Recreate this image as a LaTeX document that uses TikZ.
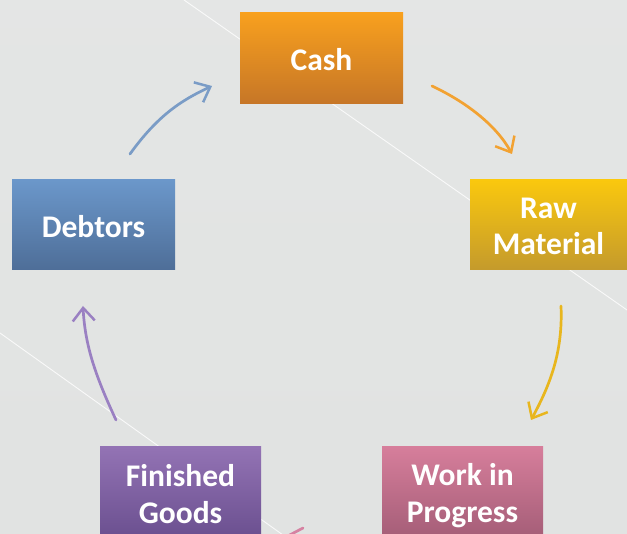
\documentclass[tikz,border=0pt]{standalone}
\usepackage{fontspec}
\setmainfont{Carlito}
\usetikzlibrary{arrows.meta}
\definecolor{bgc}{HTML}{E1E3E2}
\definecolor{cashT}{HTML}{F8A01E}\definecolor{cashB}{HTML}{C67627}
\definecolor{rawT}{HTML}{FAC80E}\definecolor{rawB}{HTML}{C49A2C}
\definecolor{debT}{HTML}{6B97CA}\definecolor{debB}{HTML}{4E6E98}
\definecolor{fgT}{HTML}{9373B4}\definecolor{fgB}{HTML}{6A4F8F}
\definecolor{wipT}{HTML}{D67E9B}\definecolor{wipB}{HTML}{A45D77}
\definecolor{arBlue}{HTML}{7A9CC6}
\definecolor{arOrange}{HTML}{F2A232}
\definecolor{arYellow}{HTML}{E8B61E}
\definecolor{arPurple}{HTML}{9A80C2}
\definecolor{arPink}{HTML}{D682A2}
\tikzset{
  stagebox/.style={rectangle, minimum width=163pt, minimum height=91pt, inner sep=0pt},
  boxlabel/.style={align=center, text=white, inner sep=0pt, font=\bfseries\fontsize{31.5}{36.5}\selectfont},
  flowarrow/.style={line width=2.7pt, line cap=round, -{Straight Barb[length=13pt,width=22pt,line width=2.5pt]}},
  bgline/.style={white, line width=0.9pt, opacity=0.8}
}
\begin{document}
\begin{tikzpicture}[x=1pt,y=-1pt]
\fill[bgc] (0,0) rectangle (627,534);
\useasboundingbox (0,0) rectangle (627,534);
\clip (0,0) rectangle (627,534);
\shade[top color=white!20!bgc, bottom color=bgc, opacity=0.5] (0,0) rectangle (627,534);
% background lines
\draw[bgline] (184,0) -- (627,310);
\draw[bgline] (0,333) -- (290,540);
% boxes
\node[stagebox, top color=cashT, bottom color=cashB] (cash) at (321.5,58.5) {};
\node[stagebox, minimum width=165pt, minimum height=90pt, top color=rawT, bottom color=rawB] (raw) at (552.5,225) {};
\node[stagebox, minimum height=90pt, top color=debT, bottom color=debB] (deb) at (93.5,225) {};
\node[stagebox, minimum width=161pt, minimum height=92pt, top color=fgT, bottom color=fgB] (fg) at (180.5,493) {};
\node[stagebox, minimum width=161pt, minimum height=92pt, top color=wipT, bottom color=wipB] (wip) at (462.5,493) {};
% labels
\node[boxlabel] (cashL) at ([yshift=-1.5pt]cash.center) {Cash};
\node[boxlabel] (rawL) at ([xshift=-4pt,yshift=-1.5pt]raw.center) {Raw\\Material};
\node[boxlabel] (debL) at ([yshift=-1.5pt]deb.center) {Debtors};
\node[boxlabel] (fgL) at ([yshift=-1pt]fg.center) {Finished\\Goods};
\node[boxlabel] (wipL) at ([yshift=-2.5pt]wip.center) {Work in\\Progress};
% arrow end points
\coordinate (debOut) at (130,154);
\coordinate (cashIn) at (212,86);
\coordinate (cashOut) at (432,86);
\coordinate (rawIn) at (512,154);
\coordinate (rawOut) at (561,306);
\coordinate (wipIn) at (531,420);
\coordinate (wipOut) at (303,528);
\coordinate (fgIn) at (250,556);
\coordinate (fgOut) at (116,420);
\coordinate (debIn) at (83,306);
% arrows
\draw[flowarrow, arBlue] (debOut) .. controls (158,115) and (182,100) .. (cashIn);
\draw[flowarrow, arOrange] (cashOut) .. controls (466,102) and (496,125) .. (rawIn);
\draw[flowarrow, arYellow] (rawOut) .. controls (563,352) and (550,385) .. (wipIn);
\draw[flowarrow, arPink] (wipOut) -- (fgIn);
\draw[flowarrow, arPurple] (fgOut) .. controls (95,375) and (85,345) .. (debIn);
\end{tikzpicture}
\end{document}
